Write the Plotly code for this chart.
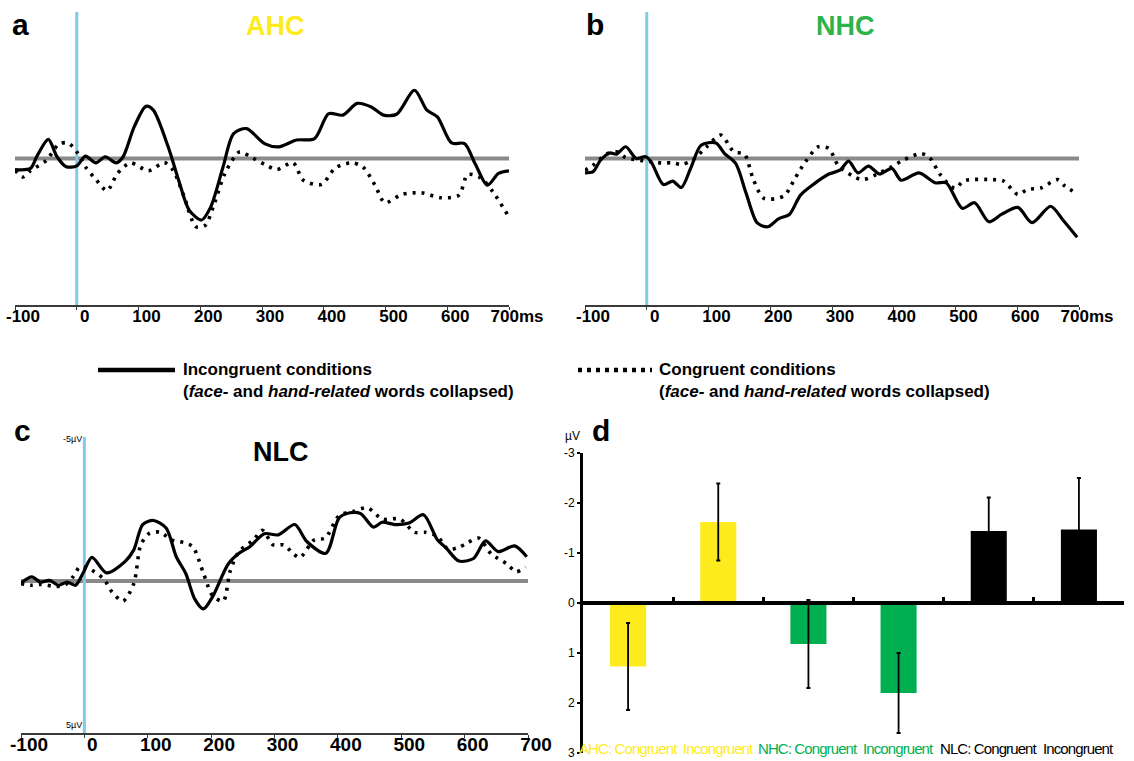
import plotly.graph_objects as go

W, H = 1134, 761

# ---------------- data (µV, negative plotted upward) ----------------
# Panel a: AHC
a_inc_t = [-100, -75, -64, -46, -32, -17, 0, 14, 31, 46, 64, 75, 93, 112, 124, 148, 165, 182, 202, 217, 237,
           254, 275, 304, 327, 356, 385, 408, 431, 454, 477, 497, 518, 547, 567, 584, 607, 628, 645, 665, 683, 700]
a_inc_v = [0.38, 0.34, -0.10, -0.65, -0.06, 0.28, 0.25, -0.08, 0.15, -0.06, 0.15, -0.06, -1.08, -1.78, -1.65,
           -0.40, 0.74, 1.76, 2.10, 1.65, 0.28, -0.85, -1.02, -0.51, -0.40, -0.63, -0.68, -1.53, -1.48, -1.88,
           -1.76, -1.48, -1.51, -2.33, -1.65, -1.42, -0.53, -0.51, 0.17, 0.91, 0.51, 0.42]
a_con_t = [-100, -87, -75, -49, -29, -14, 0, 14, 32, 49, 66, 87, 116, 142, 156, 174, 193, 208, 223, 240,
           264, 281, 307, 324, 350, 367, 396, 419, 445, 463, 483, 499, 526, 558, 590, 619, 633, 654, 674, 700]
a_con_v = [0.40, 0.63, 0.42, 0.06, -0.49, -0.53, -0.23, 0.28, 0.74, 1.10, 0.51, 0.15, 0.42, 0.14, 0.40, 1.31,
           2.33, 2.28, 1.53, 0.51, -0.23, -0.06, 0.23, 0.38, 0.14, 0.74, 0.89, 0.32, 0.15, 0.28, 0.91, 1.51,
           1.23, 1.17, 1.34, 1.25, 0.55, 0.66, 1.14, 2.00]

# Panel b: NHC
b_inc_t = [-100, -87, -75, -60, -49, -34, -17, -2, 7, 27, 42, 56, 71, 88, 112, 126, 144, 161, 179, 196, 214,
           231, 249, 272, 295, 313, 327, 342, 359, 377, 397, 412, 441, 467, 485, 511, 531, 554, 575, 601, 624,
           654, 674, 697]
b_inc_v = [0.49, 0.45, 0.06, -0.19, -0.15, -0.40, 0.00, -0.06, 0.11, 0.89, 0.77, 0.99, 0.34, -0.45, -0.53,
           -0.17, 0.17, 1.19, 2.20, 2.33, 2.05, 1.91, 1.25, 0.85, 0.53, 0.40, 0.09, 0.49, 0.26, 0.53, 0.34,
           0.74, 0.49, 0.83, 0.83, 1.70, 1.51, 2.16, 1.90, 1.67, 2.19, 1.63, 2.10, 2.69]
b_con_t = [-100, -87, -66, -49, -34, -5, 24, 42, 56, 74, 97, 120, 141, 158, 173, 190, 222, 240, 257, 278,
           295, 310, 336, 351, 377, 397, 415, 444, 458, 476, 499, 514, 560, 578, 601, 616, 639, 665, 677, 694]
b_con_v = [0.40, 0.23, -0.14, -0.23, -0.03, 0.08, 0.15, 0.15, 0.20, 0.06, -0.40, -0.80, -0.23, -0.15, 0.74,
           1.36, 1.28, 0.68, 0.11, -0.40, -0.34, 0.23, 0.63, 0.72, 0.49, 0.28, 0.06, -0.17, -0.03, 0.57, 1.02,
           0.76, 0.72, 0.77, 1.23, 1.06, 1.00, 0.72, 0.94, 1.16]

# Panel c: NLC
c_inc_t = [-100, -83, -69, -55, -41, -27, -14, -1, 12, 35, 64, 78, 92, 109, 129, 145, 160, 174, 188, 202,
           227, 244, 261, 284, 306, 332, 351, 381, 402, 419, 436, 456, 470, 490, 512, 535, 557, 571, 591, 614,
           633, 653, 679, 698]
c_inc_v = [0.07, -0.14, 0.04, -0.02, 0.15, 0.04, 0.15, -0.32, -0.82, -0.28, -0.67, -1.08, -1.96, -2.10, -1.84,
           -0.84, -0.26, 0.62, 0.97, 0.56, -0.59, -0.96, -1.19, -1.64, -1.60, -1.96, -1.37, -0.96, -2.19, -2.37,
           -2.34, -1.87, -2.04, -1.96, -2.01, -2.30, -1.43, -1.14, -0.69, -0.78, -1.39, -1.02, -1.22, -0.84]
c_con_t = [-100, -83, -69, -44, -30, -18, -7, 7, 30, 44, 61, 78, 89, 103, 120, 137, 157, 171, 188, 202, 219,
           230, 244, 267, 281, 298, 315, 329, 340, 363, 380, 402, 425, 447, 470, 498, 521, 538, 557, 574, 591,
           605, 622, 642, 667, 681, 696]
c_con_v = [0.09, 0.15, 0.12, 0.19, 0.13, -0.14, -0.49, -0.43, -0.08, 0.39, 0.70, 0.09, -1.25, -1.66, -1.69,
           -1.43, -1.33, -1.19, -0.26, 0.50, 0.70, -0.34, -1.02, -1.43, -1.76, -1.25, -1.25, -0.96, -0.81, -1.43,
           -1.49, -2.27, -2.42, -2.54, -2.15, -2.15, -1.69, -1.69, -1.55, -1.10, -1.17, -1.33, -1.49, -0.94,
           -0.59, -0.32, -0.49]

# Panel d: bar means and error bars (µV)
bar_labels = ["AHC: Congruent", "Incongruent", "NHC: Congruent", "Incongruent", "NLC: Congruent", "Incongruent"]
bar_values = [1.27, -1.62, 0.82, 1.80, -1.44, -1.47]
bar_errors = [0.87, 0.77, 0.88, 0.80, 0.67, 1.03]
bar_positions = [0, 1, 2, 3, 4, 5]

time_ticks = [-100, 0, 100, 200, 300, 400, 500, 600, 700]
time_labels_ab = ["-100", "0", "100", "200", "300", "400", "500", "600", "700ms"]
time_labels_c = ["-100", "0", "100", "200", "300", "400", "500", "600", "700"]
uv_ticks = [-3, -2, -1, 0, 1, 2, 3]

# ---------------- style ----------------
FONT = "Liberation Sans, Arial, Helvetica, sans-serif"
NARROW = "Liberation Sans Narrow, Arial Narrow, Liberation Sans, Arial, sans-serif"
YELLOW = "#FDEB1E"
GREEN = "#00B050"
TITLE_GREEN = "#2DB34A"
BLUE = "#80CBEB"
GRAY = "#8A8A8A"
DOT = "3px,6px"


def px(x):
    return x / W


def py(y):
    return 1 - y / H


fig = go.Figure()

panels = [
    ("x", "y", a_inc_t, a_inc_v, a_con_t, a_con_v),
    ("x2", "y2", b_inc_t, b_inc_v, b_con_t, b_con_v),
    ("x3", "y3", c_inc_t, c_inc_v, c_con_t, c_con_v),
]
for xa, ya, ti, vi, tc, vc in panels:
    fig.add_trace(go.Scatter(x=tc, y=vc, mode="lines", xaxis=xa, yaxis=ya,
                             line=dict(color="black", width=3.6, dash=DOT, shape="spline", smoothing=0.8),
                             hoverinfo="skip", showlegend=False))
    fig.add_trace(go.Scatter(x=ti, y=vi, mode="lines", xaxis=xa, yaxis=ya,
                             line=dict(color="black", width=3.2, shape="spline", smoothing=0.8),
                             hoverinfo="skip", showlegend=False))
    axn = xa[1:]
    yref = "y" + axn
    xref = "x" + axn
    fig.add_shape(type="line", xref=xref + " domain", yref=yref, x0=0, x1=1, y0=0, y1=0,
                  line=dict(color=GRAY, width=4), layer="below")
    fig.add_shape(type="line", xref=xref, yref=yref + " domain", x0=0, x1=0, y0=0, y1=1,
                  line=dict(color=BLUE, width=3), layer="below")

bar_colors = [YELLOW, YELLOW, GREEN, GREEN, "black", "black"]
fig.add_trace(go.Bar(x=bar_positions, y=bar_values, width=0.4, xaxis="x4", yaxis="y4",
                     marker=dict(color=bar_colors, line=dict(width=0)),
                     error_y=dict(type="data", array=bar_errors, color="black", thickness=1.8, width=2),
                     hoverinfo="skip", showlegend=False))

tickfont_ab = dict(family=FONT, size=17, color="black", weight="bold")
tickfont_c = dict(family=FONT, size=19, color="black", weight="bold")


def time_axis(dom, labels, font, standoff):
    return dict(domain=dom, range=[-100, 700], showline=True, linecolor="#3a3a3a", linewidth=2,
                ticks="outside", ticklen=3, tickcolor="#3a3a3a", tickvals=time_ticks, ticktext=labels,
                tickfont=font, showgrid=False, zeroline=False, ticklabelshift=8,
                ticklabelstandoff=standoff, fixedrange=True, automargin=False)


def uv_axis(dom, rng):
    return dict(domain=dom, range=rng, visible=False, showgrid=False, zeroline=False, fixedrange=True,
                automargin=False)


d_ydom = [py(753), py(453)]
fig.update_layout(
    template="none",
    width=W, height=H, margin=dict(l=0, r=0, t=0, b=0, pad=0), autosize=False,
    paper_bgcolor="white", plot_bgcolor="white", showlegend=False,
    xaxis=dict(time_axis([px(15), px(509)], time_labels_ab, tickfont_ab, -8), anchor="y"),
    yaxis=dict(uv_axis([py(305), py(12)], [5, -5]), anchor="x"),
    xaxis2=dict(time_axis([px(585), px(1079)], time_labels_ab, tickfont_ab, -8), anchor="y2"),
    yaxis2=dict(uv_axis([py(305), py(12)], [5, -5]), anchor="x2"),
    xaxis3=dict(time_axis([px(21), px(528)], time_labels_c, tickfont_c, -10), anchor="y3"),
    yaxis3=dict(uv_axis([py(733), py(437)], [5.28, -5]), anchor="x3"),
    xaxis4=dict(domain=[px(583), px(1124)], range=[-0.5, 5.5], anchor="free",
                position=(d_ydom[0] + d_ydom[1]) / 2, showline=True, linecolor="black", linewidth=3.5,
                ticks="inside", ticklen=4, tickwidth=3, tickcolor="black",
                tickvals=[p + 0.5 for p in bar_positions], showticklabels=False,
                showgrid=False, zeroline=False, fixedrange=True, automargin=False),
    yaxis4=dict(domain=d_ydom, range=[3, -3], anchor="x4", showline=True, linecolor="black", linewidth=3,
                ticks="outside", ticklen=3, tickwidth=1.5, tickcolor="black", tickvals=uv_ticks,
                ticktext=[str(v) for v in uv_ticks], tickfont=dict(family=FONT, size=12, color="black"),
                showgrid=False, zeroline=False, fixedrange=True, automargin=False),
)

# panel letters and titles
texts = [
    ("a", 20, 24, 30, "black"), ("b", 595, 24, 30, "black"),
    ("c", 22, 430, 30, "black"), ("d", 601, 430, 30, "black"),
    ("AHC", 275, 26, 27, YELLOW), ("NHC", 845, 26, 27, TITLE_GREEN), ("NLC", 281, 452, 27, "black"),
]
for t, x, y, s, c in texts:
    fig.add_annotation(xref="paper", yref="paper", x=px(x), y=py(y), text="<b>%s</b>" % t, showarrow=False,
                       xanchor="center", yanchor="middle", font=dict(family=FONT, size=s, color=c))

# small µV labels
fig.add_annotation(xref="paper", yref="paper", x=px(84), y=py(439), text="-5µV", showarrow=False,
                   xanchor="right", yanchor="middle", font=dict(family=FONT, size=9, color="black"))
fig.add_annotation(xref="paper", yref="paper", x=px(84), y=py(725), text="5µV", showarrow=False,
                   xanchor="right", yanchor="middle", font=dict(family=FONT, size=9, color="black"))
fig.add_annotation(xref="paper", yref="paper", x=px(582), y=py(436), text="µV", showarrow=False,
                   xanchor="right", yanchor="middle", font=dict(family=FONT, size=12, color="black"))

# bar category labels
label_colors = [YELLOW, YELLOW, GREEN, GREEN, "black", "black"]
for pos, lab, col in zip(bar_positions, bar_labels, label_colors):
    fig.add_annotation(xref="x4", yref="y4", x=pos, y=2.9,
                       text='<span style="letter-spacing:-0.9px">%s</span>' % lab, showarrow=False,
                       xanchor="center", yanchor="middle", font=dict(family=NARROW, size=15, color=col))

# legend
fig.add_shape(type="line", xref="paper", yref="paper", x0=px(98), x1=px(175), y0=py(370), y1=py(370),
              line=dict(color="black", width=4.5))
fig.add_shape(type="line", xref="paper", yref="paper", x0=px(578), x1=px(652), y0=py(370), y1=py(370),
              line=dict(color="black", width=4.5, dash="4px,5px"))
sub = "<b>(<i>face-</i> and <i>hand-related</i> words collapsed)</b>"
fig.add_annotation(xref="paper", yref="paper", x=px(181), y=py(380), align="left",
                   text="<b>Incongruent conditions</b><br>" + sub, showarrow=False,
                   xanchor="left", yanchor="middle", font=dict(family=FONT, size=17, color="black"))
fig.add_annotation(xref="paper", yref="paper", x=px(657), y=py(380), align="left",
                   text="<b>Congruent conditions</b><br>" + sub, showarrow=False,
                   xanchor="left", yanchor="middle", font=dict(family=FONT, size=17, color="black"))

fig.write_html("out.html", config={"displayModeBar": False},
               post_script="document.body.style.margin='0px';document.body.style.overflow='hidden';")
